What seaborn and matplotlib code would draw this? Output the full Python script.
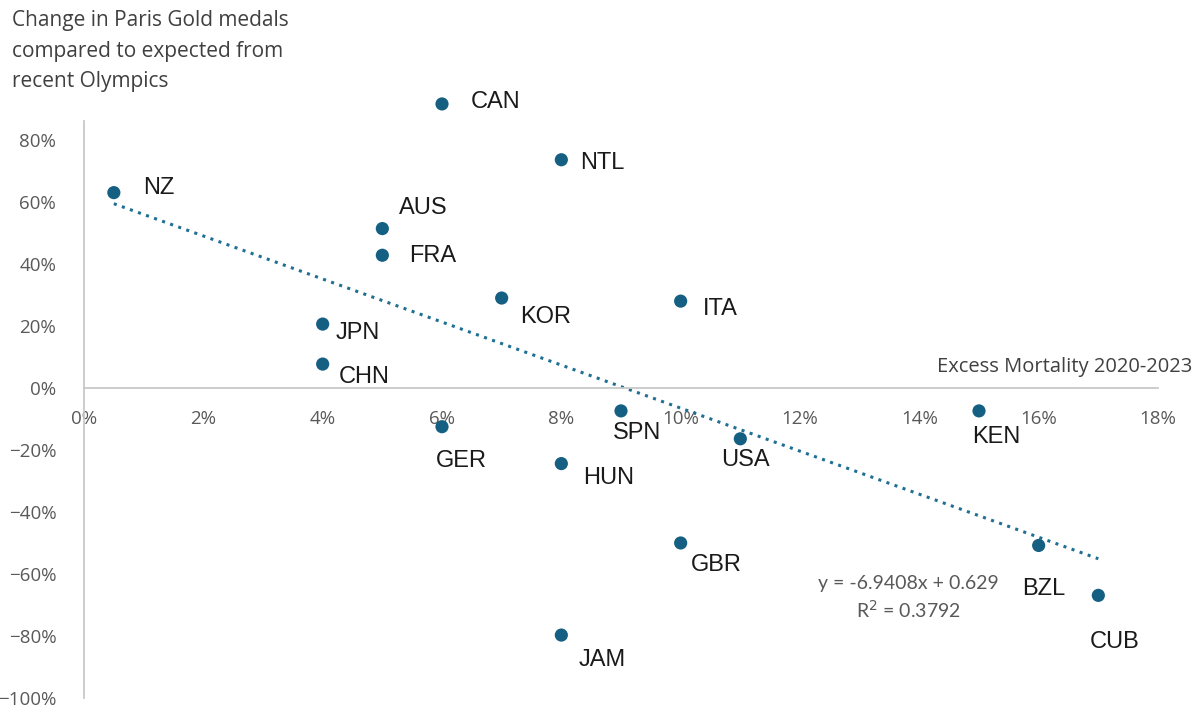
import matplotlib
matplotlib.use("Agg")
import matplotlib.pyplot as plt
import seaborn as sns
import pandas as pd
import numpy as np
from matplotlib.ticker import PercentFormatter

# ---- data ----
countries = ["NZ", "CAN", "NTL", "AUS", "FRA", "KOR", "ITA", "JPN", "CHN",
             "SPN", "GER", "USA", "KEN", "HUN", "GBR", "BZL", "CUB", "JAM"]
excess_mortality = [0.005, 0.06, 0.08, 0.05, 0.05, 0.07, 0.10, 0.04, 0.04,
                    0.09, 0.06, 0.11, 0.15, 0.08, 0.10, 0.16, 0.17, 0.08]
gold_change = [0.63, 0.916, 0.736, 0.514, 0.428, 0.29, 0.28, 0.206, 0.077,
               -0.074, -0.125, -0.164, -0.074, -0.244, -0.50, -0.508, -0.669, -0.797]
trend_slope = -6.9408
trend_intercept = 0.629
r_squared = 0.3792

x_ticks = [0, 0.02, 0.04, 0.06, 0.08, 0.10, 0.12, 0.14, 0.16, 0.18]
y_ticks = [-1.0, -0.8, -0.6, -0.4, -0.2, 0.0, 0.2, 0.4, 0.6, 0.8]

# label offsets (pixels) - layout only
label_offsets = {
    "NZ": (29, 5), "CAN": (29, 2), "NTL": (19, -3), "AUS": (17, 21),
    "FRA": (27, -1), "KOR": (18, -19), "ITA": (22, -8), "JPN": (13, -9),
    "CHN": (16, -13), "SPN": (-8, -22), "GER": (-6, -34), "USA": (-19, -21),
    "KEN": (-7, -26), "HUN": (22, -14), "GBR": (10, -22), "BZL": (-17, -44),
    "CUB": (-9, -47), "JAM": (17, -25),
}

df = pd.DataFrame({"country": countries, "x": excess_mortality, "y": gold_change})

sns.set_theme(style="white")
plt.rcParams["font.family"] = ["Open Sans", "DejaVu Sans"]

fig = plt.figure(figsize=(12.01, 7.08), dpi=100)
ax = fig.add_axes([84 / 1201, 10 / 708, (1158 - 84) / 1201, (698 - 121) / 708])

col = "#156082"

# trendline
tx = np.array([min(excess_mortality), max(excess_mortality)])
ty = trend_slope * tx + trend_intercept
ax.plot(tx, ty, color="#1f6f92", lw=2.2, linestyle=(0, (1, 1.8)),
        dash_capstyle="butt", zorder=2)

sns.scatterplot(data=df, x="x", y="y", ax=ax, color=col, s=90,
                edgecolor="none", zorder=3, clip_on=False)

for c, xv, yv in zip(countries, excess_mortality, gold_change):
    dx, dy = label_offsets[c]
    ax.annotate(c, (xv, yv), xytext=(dx, dy), textcoords="offset pixels",
                ha="left", va="center", fontsize=17, color="#1a1a1a",
                family=["Liberation Sans", "DejaVu Sans"], annotation_clip=False)

ax.set_xlim(0, 0.18)
ax.set_ylim(-1.0, 0.861)
ax.set_xticks(x_ticks)
ax.set_yticks(y_ticks)
ax.xaxis.set_major_formatter(PercentFormatter(1.0, decimals=0))
ax.yaxis.set_major_formatter(PercentFormatter(1.0, decimals=0))
ax.tick_params(axis="both", length=0, labelsize=13.5, labelcolor="#595959")
ax.tick_params(axis="y", pad=20)
ax.tick_params(axis="x", pad=16)
ax.set_xlabel("")
ax.set_ylabel("")

ax.spines["bottom"].set_position(("data", 0))
for s in ["top", "right"]:
    ax.spines[s].set_visible(False)
for s in ["left", "bottom"]:
    ax.spines[s].set_color("#c8c8c8")
    ax.spines[s].set_linewidth(1.3)

# trendline equation
fig.text(908 / 1201, 1 - 583 / 708, f"y = {trend_slope}x + {trend_intercept}",
         ha="center", va="center", fontsize=14, color="#595959",
         family=["Lato", "DejaVu Sans"])
fig.text(908 / 1201, 1 - 610 / 708, f"R$^2$ = {r_squared}",
         ha="center", va="center", fontsize=14, color="#595959",
         family=["Lato", "DejaVu Sans"])

# axis titles
fig.text(1192 / 1201, 1 - 367 / 708, "Excess Mortality 2020-2023",
         ha="right", va="center", fontsize=14.5, color="#404040")
fig.text(12 / 1201, 1 - 10 / 708,
         "Change in Paris Gold medals\ncompared to expected from\nrecent Olympics",
         ha="left", va="top", fontsize=15, color="#404040", linespacing=1.6)

fig.savefig("out.png", dpi=100)
